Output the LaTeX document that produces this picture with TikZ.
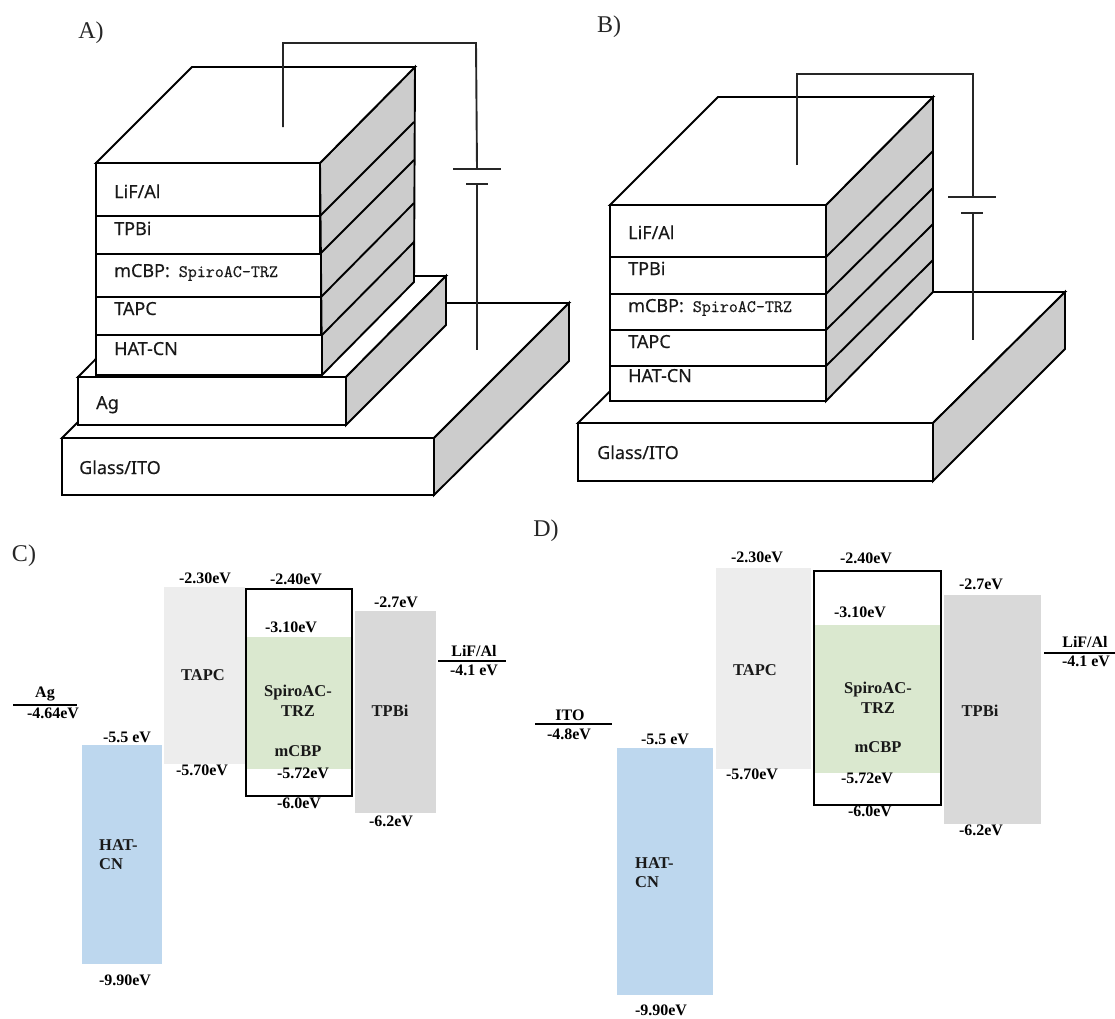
\documentclass[tikz,border=0pt]{standalone}
\usepackage{fontspec}
\setmainfont{Liberation Serif}
\setsansfont[FakeBold=0.25]{Noto Sans}
\setmonofont[FakeBold=0.5]{Latin Modern Mono}
\tikzset{
  face/.style={draw=black,line width=1.9pt,fill=white,line join=miter},
  side/.style={draw=black,line width=1.9pt,fill=sidegray,line join=miter},
  wire/.style={draw=black!85,line width=1.9pt},
  lay/.style={anchor=base west,inner sep=0pt,font=\sffamily\fontsize{18}{20}\selectfont,text=black!90},
  panel/.style={inner sep=0pt,font=\fontsize{24}{28}\selectfont,text=black!85},
  val/.style={inner sep=0pt,font=\bfseries\fontsize{16}{18}\selectfont},
  mat/.style={inner sep=0pt,font=\bfseries\fontsize{16.5}{19}\selectfont,text=black!90},
  lev/.style={draw=black,line width=2pt},
  gbox/.style={draw=black,line width=2.4pt}
}
\definecolor{sidegray}{HTML}{CCCCCC}
\definecolor{hatb}{HTML}{BDD7EE}
\definecolor{tapcg}{HTML}{EDEDED}
\definecolor{greenb}{HTML}{DAE8CF}
\definecolor{tpbig}{HTML}{D9D9D9}
\newcommand{\spiro}{mCBP:\hspace{9pt}\texttt{\fontsize{17.5}{20}\selectfont SpiroAC-TRZ}}
\begin{document}
\begin{tikzpicture}[x=1pt,y=-1pt]
\useasboundingbox (0,0) rectangle (1115,1018);
% ---------- Panel A
\node[panel] (lblA) at (91,33) {A)};
\draw[face] (62,438) -- (434,438) -- (569,303) -- (197,303) -- cycle;
\draw[side] (434,438) -- (569,303) -- (569,361) -- (434,495) -- cycle;
\draw[face] (62,438) rectangle (434,495);
\draw[face] (78,377) -- (346,377) -- (446,276) -- (178,276) -- cycle;
\draw[side] (346,377) -- (446,276) -- (446,325) -- (346,425) -- cycle;
\draw[face] (78,377) rectangle (346,425);
\draw[side] (320,163) -- (415,67) -- (414,282) -- (322,375) -- cycle;
\draw[face] (96,163) -- (192,67) -- (415,67) -- (320,163) -- cycle;
\draw[face] (96,163) rectangle (320,216);
\draw[face] (96,216) rectangle (320,254);
\draw[face] (96,254) rectangle (321,297);
\draw[face] (96,297) rectangle (321,335);
\draw[face] (96,335) rectangle (322,375);
\draw[line width=1.9pt] (320,216) -- (414,122);
\draw[line width=1.9pt] (320,254) -- (414,160);
\draw[line width=1.9pt] (321,297) -- (414,203);
\draw[line width=1.9pt] (322,335) -- (414,242);
\node[lay] (aL) at (114,198) {LiF/Al};
\node[lay] (aT) at (114,235) {TPBi};
\node[lay] (aM) at (114,277) {\spiro};
\node[lay] (aC) at (114,315) {TAPC};
\node[lay] (aH) at (114,355) {HAT-CN};
\node[lay] (aA) at (96,409) {Ag};
\node[lay] (aG) at (79,474) {Glass/ITO};
\coordinate (a1) at (283,127);
\coordinate (a2) at (283,43);
\coordinate (a3) at (476,43);
\coordinate (a4) at (477,169);
\coordinate (a5) at (477,184);
\coordinate (a6) at (477,350);
\coordinate (a7) at (453,169);
\coordinate (a8) at (501,169);
\coordinate (a9) at (466,184);
\coordinate (a10) at (488,184);
\draw[wire] (a1) -- (a2) -- (a3) -- (a4);
\draw[wire] (a5) -- (a6);
\draw[wire] (a7) -- (a8);
\draw[wire] (a9) -- (a10);
% ---------- Panel B
\node[panel] (lblB) at (609,27) {B)};
\draw[face] (578,423) -- (933,423) -- (1065,292) -- (710,292) -- cycle;
\draw[side] (933,423) -- (1065,292) -- (1065,349) -- (933,481) -- cycle;
\draw[face] (578,423) rectangle (933,481);
\draw[side] (826,205) -- (933,97) -- (933,292) -- (826,401) -- cycle;
\draw[face] (610,205) -- (718,97) -- (933,97) -- (826,205) -- cycle;
\draw[face] (610,205) rectangle (826,257);
\draw[face] (610,257) rectangle (826,294);
\draw[face] (610,294) rectangle (826,330);
\draw[face] (610,330) rectangle (826,366);
\draw[face] (610,366) rectangle (826,401);
\draw[line width=1.9pt] (826,257) -- (933,151);
\draw[line width=1.9pt] (826,294) -- (933,188);
\draw[line width=1.9pt] (826,330) -- (933,224);
\draw[line width=1.9pt] (826,366) -- (933,260);
\node[lay] (bL) at (628,239) {LiF/Al};
\node[lay] (bT) at (628,275) {TPBi};
\node[lay] (bM) at (628,312) {\spiro};
\node[lay] (bC) at (628,348) {TAPC};
\node[lay] (bH) at (628,382) {HAT-CN};
\node[lay] (bG) at (597,459) {Glass/ITO};
\coordinate (b1) at (797,165);
\coordinate (b2) at (797,74);
\coordinate (b3) at (973,74);
\coordinate (b4) at (973,197);
\coordinate (b5) at (973,213);
\coordinate (b6) at (973,340);
\coordinate (b7) at (948,197);
\coordinate (b8) at (996,197);
\coordinate (b9) at (961,213);
\coordinate (b10) at (983,213);
\draw[wire] (b1) -- (b2) -- (b3) -- (b4);
\draw[wire] (b5) -- (b6);
\draw[wire] (b7) -- (b8);
\draw[wire] (b9) -- (b10);
% ---------- Panel C
\node[panel] (lblC) at (24,556) {C)};
\fill[hatb] (82,745) rectangle (162,964);
\fill[tapcg] (164,587) rectangle (245,764);
\fill[greenb] (247,637) rectangle (351,769);
\fill[tpbig] (355,611) rectangle (436,813);
\draw[gbox] (246,589) rectangle (352,796);
\coordinate (c1) at (13,705); \coordinate (c2) at (77,705);
\coordinate (c3) at (438,661); \coordinate (c4) at (506,661);
\draw[lev] (c1) -- (c2);
\draw[lev] (c3) -- (c4);
\node[val] (c01) at (205,578) {-2.30eV};
\node[val] (c02) at (296,579) {-2.40eV};
\node[val] (c03) at (396,602) {-2.7eV};
\node[val] (c04) at (291,627) {-3.10eV};
\node[val] (c05) at (474,651) {LiF/Al};
\node[val] (c06) at (474,670) {-4.1 eV};
\node[val] (c07) at (45,694) {Ag};
\node[val] (c08) at (53,713) {-4.64eV};
\node[val] (c09) at (127,737) {-5.5 eV};
\node[val] (c10) at (202,770) {-5.70eV};
\node[val] (c11) at (303,773) {-5.72eV};
\node[val] (c12) at (299,803) {-6.0eV};
\node[val] (c13) at (391,821) {-6.2eV};
\node[val] (c14) at (125,980) {-9.90eV};
\node[mat] (c15) at (203,675) {TAPC};
\node[mat] (c16) at (298,693) {SpiroAC-};
\node[mat] (c17) at (298,711) {TRZ};
\node[mat] (c18) at (298,751) {mCBP};
\node[mat] (c19) at (390,711) {TPBi};
\node[mat,anchor=west] (c20) at (99,845) {HAT-};
\node[mat,anchor=west] (c21) at (99,864) {CN};
% ---------- Panel D
\node[panel] (lblD) at (546,531) {D)};
\fill[hatb] (617,748) rectangle (713,995);
\fill[tapcg] (716,568) rectangle (811,769);
\fill[greenb] (815,625) rectangle (940,773);
\fill[tpbig] (944,595) rectangle (1041,824);
\draw[gbox] (814,571) rectangle (941,805);
\coordinate (d1) at (535,724); \coordinate (d2) at (612,724);
\coordinate (d3) at (1044,653); \coordinate (d4) at (1115,653);
\draw[lev] (d1) -- (d2);
\draw[lev] (d3) -- (d4);
\node[val] (d01) at (757,557) {-2.30eV};
\node[val] (d02) at (866,558) {-2.40eV};
\node[val] (d03) at (981,584) {-2.7eV};
\node[val] (d04) at (860,612) {-3.10eV};
\node[val] (d05) at (1085,642) {LiF/Al};
\node[val] (d06) at (1086,661) {-4.1 eV};
\node[val] (d07) at (570,715) {ITO};
\node[val] (d08) at (569,734) {-4.8eV};
\node[val] (d09) at (665,739) {-5.5 eV};
\node[val] (d10) at (752,774) {-5.70eV};
\node[val] (d11) at (867,778) {-5.72eV};
\node[val] (d12) at (870,811) {-6.0eV};
\node[val] (d13) at (981,830) {-6.2eV};
\node[val] (d14) at (661,1010) {-9.90eV};
\node[mat] (d15) at (755,670) {TAPC};
\node[mat] (d16) at (878,690) {SpiroAC-};
\node[mat] (d17) at (878,708) {TRZ};
\node[mat] (d18) at (878,747) {mCBP};
\node[mat] (d19) at (980,711) {TPBi};
\node[mat,anchor=west] (d20) at (635,863) {HAT-};
\node[mat,anchor=west] (d21) at (635,882) {CN};
\end{tikzpicture}
\end{document}
